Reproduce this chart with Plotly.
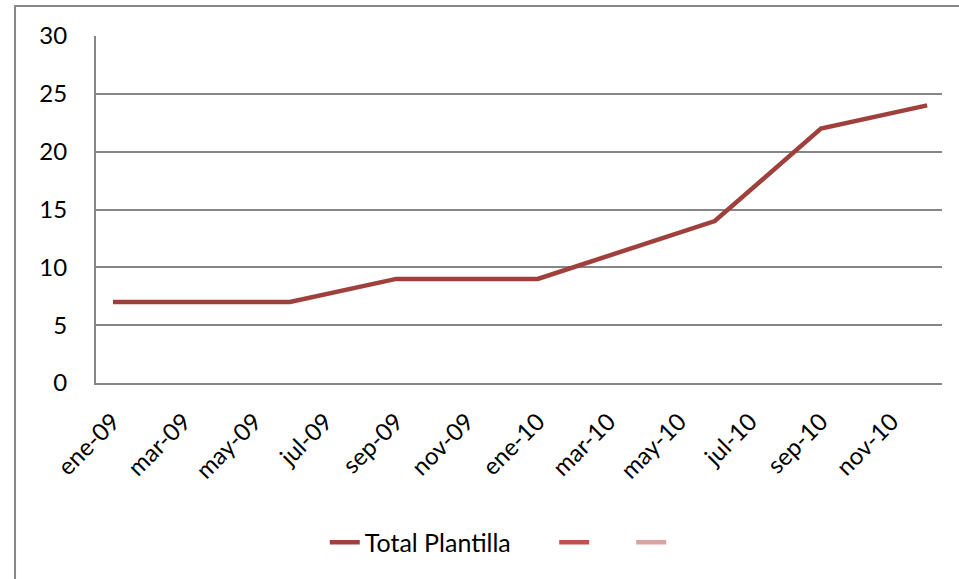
import plotly.graph_objects as go

months = ["ene-09", "feb-09", "mar-09", "abr-09", "may-09", "jun-09",
          "jul-09", "ago-09", "sep-09", "oct-09", "nov-09", "dic-09",
          "ene-10", "feb-10", "mar-10", "abr-10", "may-10", "jun-10",
          "jul-10", "ago-10", "sep-10", "oct-10", "nov-10", "dic-10"]
total_plantilla = [7, None, None, None, None, 7,
                   None, None, 9, None, None, None,
                   9, None, None, None, None, 14,
                   None, None, 22, None, None, 24]
tick_labels = months[::2]
series_names = ["Total Plantilla", "", ""]

FONT = "Lato"
NB = "\u00a0"

fig = go.Figure()
fig.add_trace(go.Scatter(
    x=months, y=total_plantilla, mode="lines", name=series_names[0] + NB * 6,
    connectgaps=True, line=dict(color="#A0403D", width=4.5),
))
fig.add_trace(go.Scatter(
    x=[None], y=[None], mode="lines", name=series_names[1] + NB * 5,
    line=dict(color="#C0504D", width=4.5),
))
fig.add_trace(go.Scatter(
    x=[None], y=[None], mode="lines", name=series_names[2] + NB,
    line=dict(color="#D9A3A1", width=4.5),
))

fig.update_layout(
    width=959, height=579,
    margin=dict(l=96, r=17, t=36, b=196),
    paper_bgcolor="white", plot_bgcolor="white",
    font=dict(family=FONT, size=24, color="black"),
    showlegend=True,
    legend=dict(orientation="h", x=0.482, xanchor="center", y=-0.46, yanchor="middle",
                font=dict(size=25), itemwidth=30),
    shapes=[dict(type="rect", xref="paper", yref="paper",
                 x0=-0.0957, x1=1.03, y0=-0.6, y1=1.0865,
                 line=dict(color="#868686", width=2), fillcolor="rgba(0,0,0,0)", layer="below")],
)
fig.update_xaxes(
    type="category", categoryorder="array", categoryarray=months,
    range=[-0.48, 23.42],
    tickmode="array", tickvals=tick_labels, ticktext=tick_labels,
    tickangle=-45, showgrid=False, showline=True, linecolor="#868686", linewidth=2,
    ticks="", tickfont=dict(size=24, family=FONT), ticklabelstandoff=13, fixedrange=True,
)
fig.update_yaxes(
    range=[0, 30], tickvals=[0, 5, 10, 15, 20, 25, 30],
    showgrid=True, gridcolor="#868686", gridwidth=1.5,
    showline=True, linecolor="#868686", linewidth=2,
    zeroline=False, ticks="", ticklabelstandoff=22,
    tickfont=dict(size=24, family=FONT),
)

fig.write_html("out.html")
